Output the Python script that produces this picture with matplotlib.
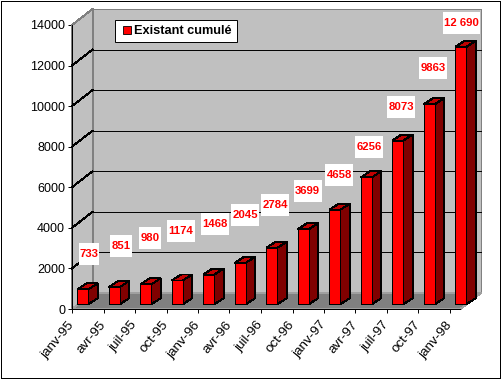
"""Cumulative stock bar chart with an old spreadsheet style 3D look."""

import matplotlib
matplotlib.use("Agg")
import matplotlib.pyplot as plt
from matplotlib.lines import Line2D
from matplotlib.patches import Polygon, Rectangle

months = [0, 3, 6, 9, 12, 15, 18, 21, 24, 27, 30, 33, 36]
tick_labels = ["janv-95", "avr-95", "juil-95", "oct-95", "janv-96", "avr-96", "juil-96",
               "oct-96", "janv-97", "avr-97", "juil-97", "oct-97", "janv-98"]
values = [733, 851, 980, 1174, 1468, 2045, 2784, 3699, 4658, 6256, 8073, 9863, 12690]
value_labels = ["733", "851", "980", "1174", "1468", "2045", "2784", "3699", "4658",
                "6256", "8073", "9863", "12 690"]
y_ticks = [0, 2000, 4000, 6000, 8000, 10000, 12000, 14000]

# label box placement relative to the bar top, in pixels
label_dx = [6.2, 6.7, 4.3, 3.8, 6.4, 5, 3.4, 4.3, 4.5, 3, 3.6, 4.1, 0.3]
label_dy = [35, 41, 46, 49, 51, 48, 43, 38, 35, 30, 33.5, 36, 24]
label_w = [20, 22, 22, 28, 28, 28, 28, 28, 28, 28, 28, 28, 37]

W, H = 502, 379
PLOT_L, PLOT_R, PLOT_T, PLOT_B = 72, 460.5, 25, 309
X_MAX, Y_MAX = 37, 14000
PX_X = X_MAX / (PLOT_R - PLOT_L)
PX_Y = Y_MAX / (PLOT_B - PLOT_T)
LW = 0.7

plt.rcParams["font.family"] = ["Liberation Sans", "DejaVu Sans"]

fig = plt.figure(figsize=(W / 100, H / 100), dpi=100, facecolor="white")
ax = fig.add_axes([PLOT_L / W, 1 - PLOT_B / H, (PLOT_R - PLOT_L) / W, (PLOT_B - PLOT_T) / H])
ax.set_xlim(0, X_MAX)
ax.set_ylim(0, Y_MAX)
ax.patch.set_visible(False)

# outer frame
fig.add_artist(Rectangle((0.5 / W, 1.5 / H), 500 / W, 376.5 / H, transform=fig.transFigure,
                         fill=False, ec="black", lw=LW, aa=False))

dx, dy = 20.5 * PX_X, 16 * PX_Y


def poly(points, fc, ec="none", z=1):
    ax.add_patch(Polygon(points, closed=True, fc=fc, ec=ec, lw=LW, zorder=z,
                         clip_on=False, antialiased=False))


# walls and floor
poly([(dx, dy), (X_MAX + dx, dy), (X_MAX + dx, Y_MAX + dy), (dx, Y_MAX + dy)], "#c0c0c0", "#808080")
poly([(0, 0), (dx, dy), (dx, Y_MAX + dy), (0, Y_MAX)], "#c0c0c0", "#808080")
poly([(0, 0), (X_MAX, 0), (X_MAX + dx, dy), (dx, dy)], "#808080", "#a0a0a0")

for t in y_ticks[1:-1]:
    ax.plot([0, dx], [t, t + dy], color="black", lw=LW, zorder=2, clip_on=False, antialiased=False)
    ax.plot([dx, X_MAX + dx], [t + dy, t + dy], color="black", lw=LW, zorder=2, clip_on=False,
            snap=True)
ax.plot([0, dx], [Y_MAX, Y_MAX + dy], color="#808080", lw=LW, zorder=2, clip_on=False,
        antialiased=False)

# bars
bar_w = 1.05
x_shift = 1.03
base = 4.7 * PX_Y
depth_x, depth_y = 9.2 * PX_X, 6 * PX_Y
for i, (m, v) in enumerate(zip(months, values)):
    left = m + x_shift - bar_w / 2
    right = left + bar_w
    top = base + v
    z = 3 + i * 0.01
    poly([(right, base), (right + depth_x, base + depth_y), (right + depth_x, top + depth_y),
          (right, top)], "#800000", "black", z)
    poly([(left, top), (right, top), (right + depth_x, top + depth_y),
          (left + depth_x, top + depth_y)], "#c00000", "black", z)
    ax.bar(m + x_shift, v, width=bar_w, bottom=base, color="#ff0000", edgecolor="black",
           linewidth=LW, zorder=z, antialiased=False, clip_on=False)

# value labels
for m, v, txt, ox, oy, w in zip(months, values, value_labels, label_dx, label_dy, label_w):
    cx = m + x_shift + ox * PX_X
    cy = base + v + oy * PX_Y
    ax.add_patch(Rectangle((cx - w / 2 * PX_X, cy - 11 * PX_Y), w * PX_X, 22 * PX_Y, fc="white",
                           ec="none", zorder=5, clip_on=False, antialiased=False))
    ax.text(cx, cy, txt, color="#ff0000", fontsize=8.2, fontweight="bold", ha="center",
            va="center", zorder=6, clip_on=False)

for side in ("top", "right"):
    ax.spines[side].set_visible(False)
for side in ("left", "bottom"):
    ax.spines[side].set_linewidth(LW)
    ax.spines[side].set_zorder(2.5)
    ax.spines[side].set_antialiased(False)

ax.set_xticks(months)
ax.set_xticklabels(tick_labels, rotation=50, ha="right", va="center", rotation_mode="anchor",
                   fontsize=9.6)
ax.set_yticks(y_ticks)
ax.set_yticklabels([str(t) for t in y_ticks], fontsize=9)
ax.tick_params(axis="both", length=3, width=LW, color="black")
ax.tick_params(axis="x", pad=7)
ax.tick_params(axis="y", pad=2)

handle = Line2D([], [], marker="s", ls="none", mfc="#ff0000", mec="black", mew=0.6, ms=5.5)
legend = ax.legend([handle], ["Existant cumulé"], loc="upper left",
                   bbox_to_anchor=(115.5 / W, 1 - 20 / H), bbox_transform=fig.transFigure,
                   prop={"weight": "bold", "size": 9.2}, fancybox=False, framealpha=1,
                   edgecolor="black", facecolor="white", borderaxespad=0, borderpad=0.4,
                   handletextpad=0.05, handlelength=1.0)
legend.get_frame().set_linewidth(LW)
legend.set_zorder(7)

fig.savefig("out.png", dpi=100)
